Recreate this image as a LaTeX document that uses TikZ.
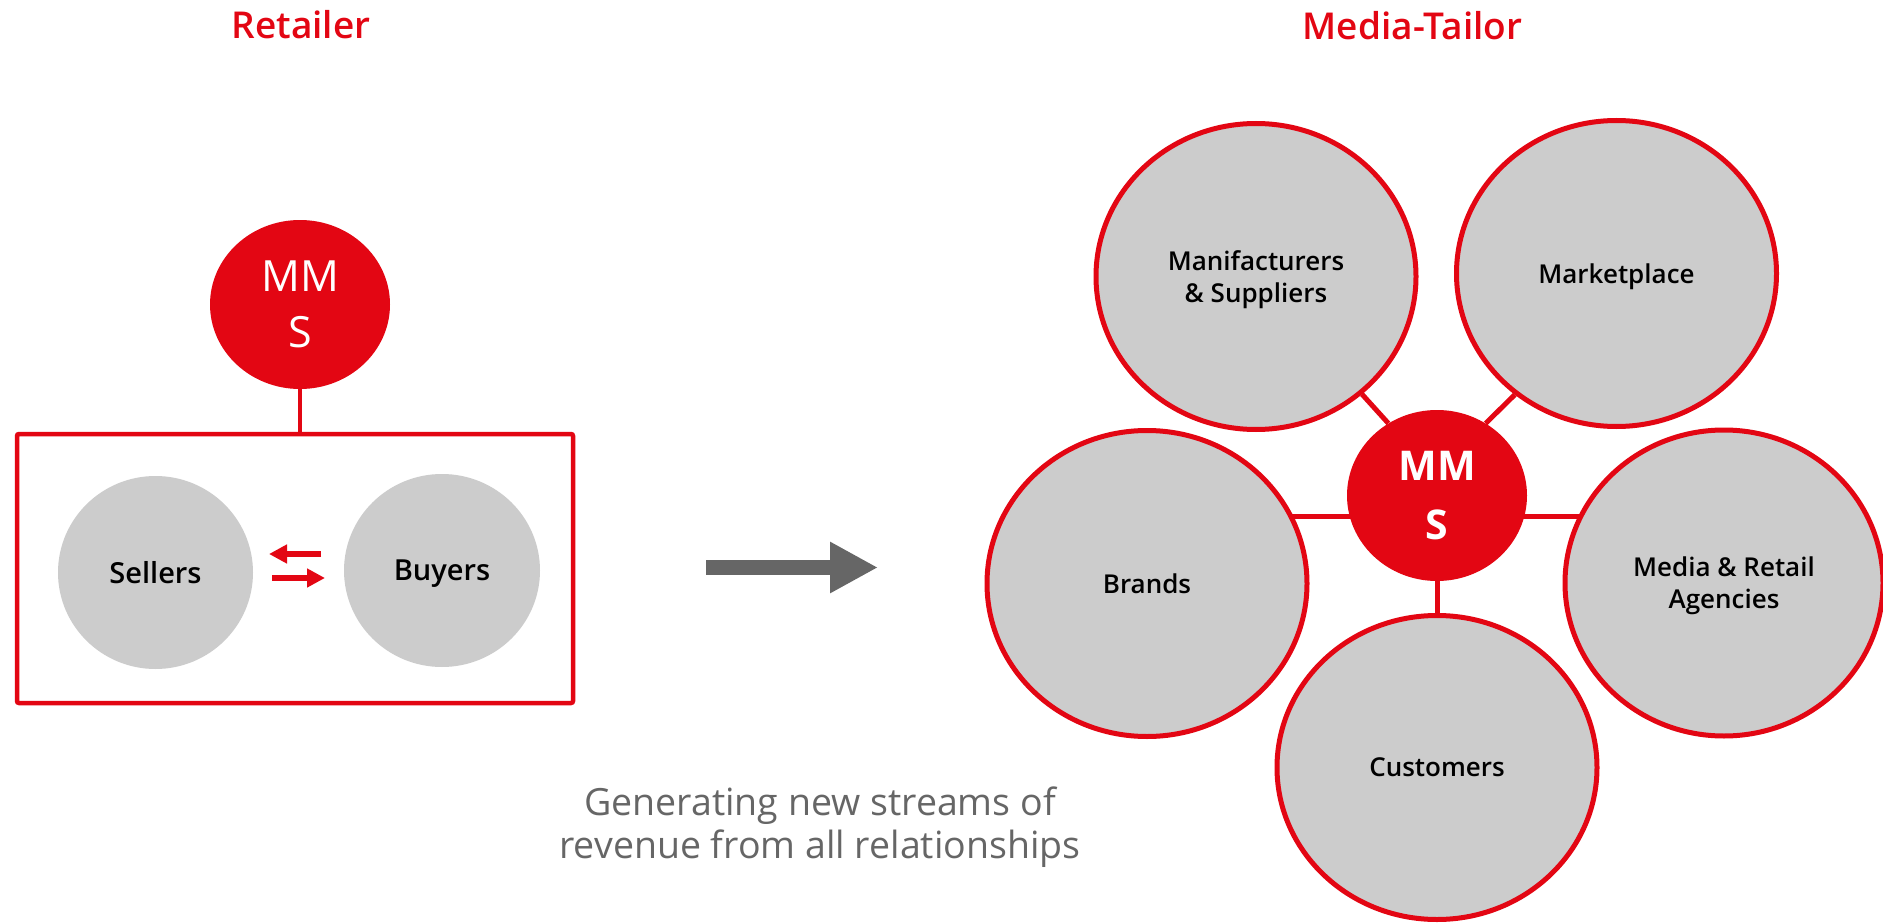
\documentclass[tikz,border=0pt]{standalone}
\usepackage{fontspec}
\setmainfont{Open Sans}
\IfFontExistsTF{Open Sans SemiBold}{\newfontfamily\sbfont{Open Sans SemiBold}}{%
  \IfFontExistsTF{Open Sans Semibold}{\newfontfamily\sbfont{Open Sans Semibold}}{%
    \newfontfamily\sbfont{Open Sans}[FakeBold=1.5]}}
\usetikzlibrary{arrows.meta,shapes.geometric,backgrounds}
\definecolor{brandred}{HTML}{E30613}
\definecolor{lightgrey}{HTML}{CCCCCC}
\definecolor{darkgrey}{HTML}{666666}
\tikzset{
  blob/.style={ellipse, draw=brandred, line width=5pt, fill=lightgrey,
    minimum width=320pt, minimum height=306pt, inner sep=0pt, align=center,
    text depth=0pt, font=\sbfont\fontsize{26}{32}\selectfont},
  party/.style={ellipse, fill=lightgrey, inner sep=0pt, text depth=0pt,
    font=\sbfont\fontsize{29}{34}\selectfont},
  hub/.style={ellipse, fill=brandred, text=white, inner sep=0pt, align=center},
  heading/.style={anchor=base, text=brandred, font=\sbfont\fontsize{37}{44}\selectfont},
  link/.style={draw=brandred, line width=5pt},
  swap/.style={draw=brandred, line width=6pt, -{Triangle[length=18pt,width=18pt]}},
  bigarrow/.style={draw=darkgrey, line width=15pt, -{Triangle[length=48pt,width=48pt]}}
}
\begin{document}
\begin{tikzpicture}[x=1pt,y=-1pt]
\useasboundingbox (0,0) rectangle (1883,923);

% ---------- Retailer ----------
\node[heading] (retailer) at (301,39) {Retailer};
\node[hub, minimum width=180pt, minimum height=169pt,
      font=\fontsize{43}{56}\selectfont] (mmsL) at (300,304.5) {MM\\S};
\node[draw=brandred, line width=4.5pt, rounded corners=2pt,
      minimum width=556pt, minimum height=269pt, inner sep=0pt] (box) at (295,568.5) {};
\draw[link, line width=4.5pt] (mmsL.south) -- (box.north -| mmsL.south);
\node[party, minimum width=195pt, minimum height=193pt] (sellers) at (155.5,572.5) {Sellers};
\node[party, minimum width=196pt, minimum height=193pt] (buyers) at (442,570.5) {Buyers};
\coordinate (sw1) at (321,554);
\coordinate (sw2) at (269,554);
\coordinate (sw3) at (272,578);
\coordinate (sw4) at (325,578);
\draw[swap] (sw1) -- (sw2);
\draw[swap] (sw3) -- (sw4);

% ---------- transition arrow ----------
\coordinate (ga) at (706,567.5);
\coordinate (gb) at (878,567.5);
\draw[bigarrow] (ga) -- (gb);

\node[text=darkgrey, align=center, font=\fontsize{37.5}{43}\selectfont] (caption) at (820,827)
  {Generating new streams of\\revenue from all relationships};

% ---------- Media-Tailor ----------
\node[heading] (tailor) at (1412.5,40) {Media-Tailor};
\node[blob] (mfr) at (1256,276.5) {Manifacturers\\\& Suppliers};
\node[blob] (mkt) at (1616.5,273.5) {Marketplace};
\node[blob] (brands) at (1147,583.5) {Brands};
\node[blob, minimum width=318pt] (media) at (1724,583) {Media \& Retail\\Agencies};
\node[blob, minimum height=304pt] (cust) at (1437,767.5) {Customers};
\node[hub, minimum width=180pt, minimum height=171pt,
      font=\bfseries\fontsize{41}{59}\selectfont] (mmsR) at (1437,495.5) {MM\\S};
\coordinate (hline) at (0,516);

\draw[link] (mfr.312.2) -- (mmsR.124.4);
\draw[link] (mkt.230.4) -- (mmsR.56.6);
\draw[link] (mmsR.south) -- (cust.north);

\begin{scope}[on background layer]
\fill[white] (0,0) rectangle (1883,923);
\draw[link] (brands.center |- hline) -- (mmsR.center |- hline);
\draw[link] (mmsR.center |- hline) -- (media.center |- hline);
\end{scope}
\end{tikzpicture}
\end{document}
